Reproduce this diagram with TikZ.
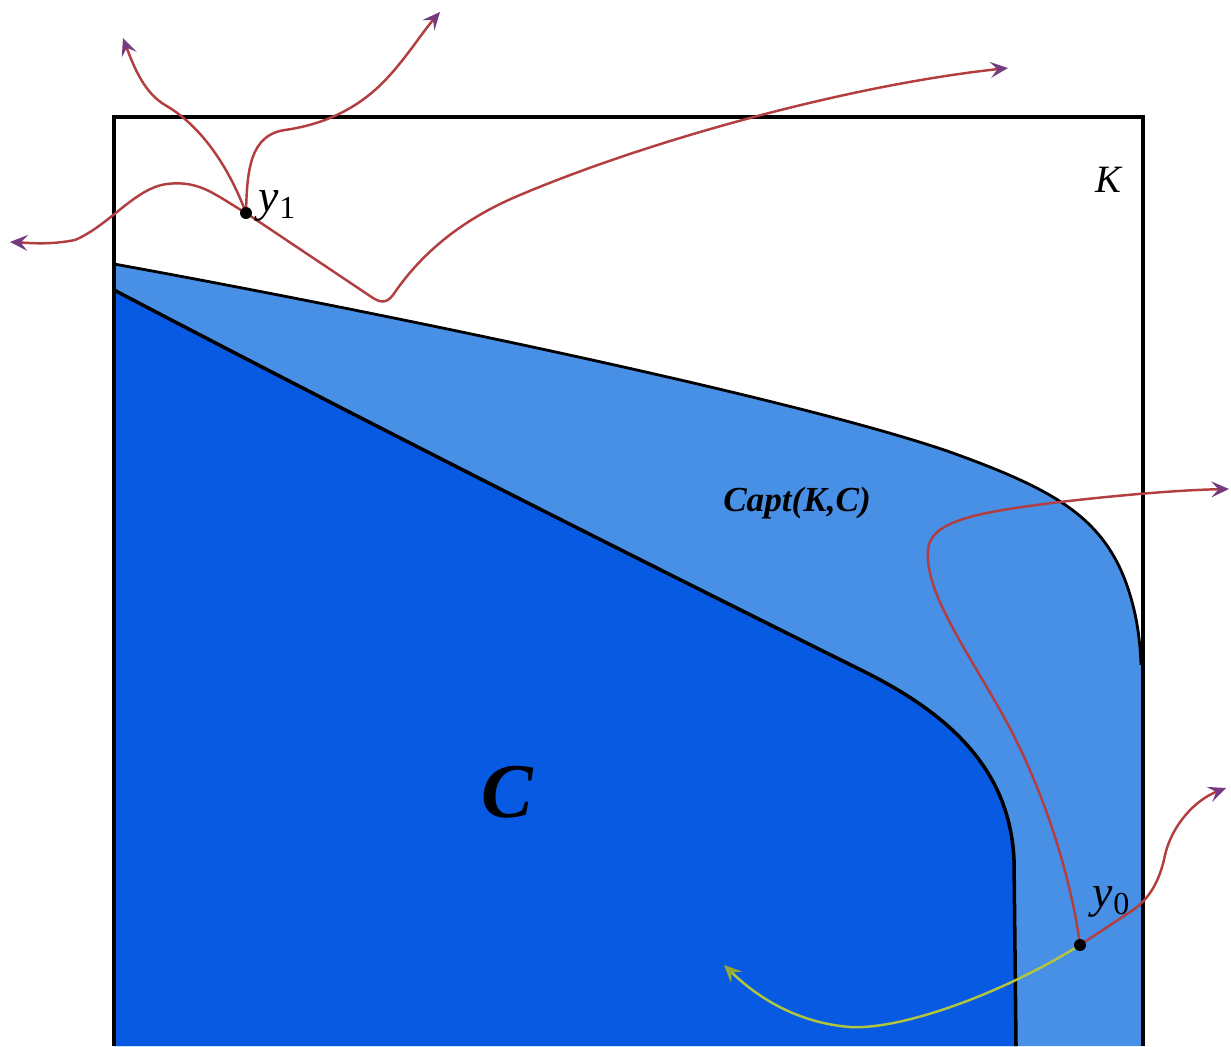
\documentclass[tikz,border=0pt]{standalone}
\usepackage{fontspec}
\setmainfont{Liberation Serif}
\usetikzlibrary{arrows.meta}
\definecolor{captblue}{RGB}{72,143,230}
\definecolor{cblue}{RGB}{8,90,226}
\definecolor{trajred}{RGB}{178,62,64}
\definecolor{tipviolet}{RGB}{118,58,128}
\definecolor{backgreen}{RGB}{176,198,62}

\begin{document}
\begin{tikzpicture}[x=0.01cm, y=-0.01cm,
  traj/.style={draw=trajred, line width=0.7pt, -{Stealth[length=5pt, width=4.5pt, inset=2pt, color=tipviolet]}},
  goback/.style={traj, draw=backgreen, -{Stealth[length=5pt, width=4.5pt, inset=2pt, color=backgreen!85!black]}},
  pt/.style={circle, fill=black, inner sep=0pt, minimum size=3.4pt},
  lbl/.style={font=\itshape\fontsize{11}{11}\selectfont}]
\useasboundingbox (0,0) rectangle (1231,1046);

% capture basin and target
\fill[captblue] (114,1046) -- (114,264) .. controls (400,316) and (800,400) .. (950,452) .. controls (1050,488) and (1100,515) .. (1125,580) .. controls (1137,612) and (1140,640) .. (1141,665) -- (1143,665) -- (1143,1046) -- cycle;
\draw[line width=0.8pt] (114,264) .. controls (400,316) and (800,400) .. (950,452) .. controls (1050,488) and (1100,515) .. (1125,580) .. controls (1137,612) and (1140,640) .. (1141,665);
\fill[cblue] (114,1046) -- (114,290) .. controls (400,440) and (700,590) .. (867,673) .. controls (950,715) and (1010,770) .. (1014,860) -- (1016,1046) -- cycle;
\draw[line width=1pt] (114,290) .. controls (400,440) and (700,590) .. (867,673) .. controls (950,715) and (1010,770) .. (1014,860) -- (1016,1046);

% environment K
\draw[line width=1.1pt] (114,1046) -- (114,117) -- (1143,117) -- (1143,1046);

% starting points and ends of the trajectories
\coordinate (y1) at (246,213);
\coordinate (y0) at (1080,945);
\coordinate (e1) at (10,242);
\coordinate (e2) at (1008,68);
\coordinate (e3) at (123,38);
\coordinate (e4) at (440,12);
\coordinate (e5) at (1229,489);
\coordinate (e6) at (1226,788);
\coordinate (e7) at (724,965);

% trajectories from y1
\draw[traj] (y1) .. controls (215,195) and (200,180) .. (167,184) .. controls (135,188) and (110,225) .. (75,240) .. controls (50,245) and (30,243) .. (e1);
\draw[traj] (y1) -- (370,296) .. controls (380,303) and (386,304) .. (393,295) .. controls (420,255) and (460,220) .. (520,195) .. controls (650,140) and (850,85) .. (e2);
\draw[traj] (y1) .. controls (228,165) and (200,125) .. (165,105) .. controls (145,93) and (135,70) .. (e3);
\draw[traj] (y1) .. controls (247,170) and (250,135) .. (285,130) .. controls (320,125) and (350,112) .. (375,90) .. controls (400,68) and (420,35) .. (e4);

% trajectories from y0
\draw[traj] (y0) .. controls (1070,870) and (1040,780) .. (1000,710) .. controls (960,640) and (925,590) .. (928,550) .. controls (930,520) and (980,512) .. (1060,502) .. controls (1120,495) and (1180,490) .. (e5);
\draw[traj] (y0) -- (1133,910) .. controls (1150,898) and (1160,880) .. (1165,855) .. controls (1172,825) and (1195,800) .. (e6);
\draw[goback] (y0) .. controls (1000,995) and (900,1030) .. (850,1027) .. controls (800,1023) and (760,1000) .. (e7);

\node[pt] (y1dot) at (y1) {};
\node[pt] (y0dot) at (y0) {};

% labels
\node[lbl, font=\itshape\fontsize{13}{13}\selectfont] (y1lbl) at (278,206) {y\textsubscript{\upshape 1}};
\node[lbl, font=\itshape\fontsize{13}{13}\selectfont] (y0lbl) at (1112,902) {y\textsubscript{\upshape 0}};
\node[lbl] (klbl) at (1108,180) {K};
\node[lbl, font=\bfseries\itshape\fontsize{10}{10}\selectfont] (captlbl) at (797,503) {Capt(K,C)};
\node[lbl, font=\bfseries\itshape\fontsize{22}{22}\selectfont] (clbl) at (507,792) {C};
\end{tikzpicture}
\end{document}
